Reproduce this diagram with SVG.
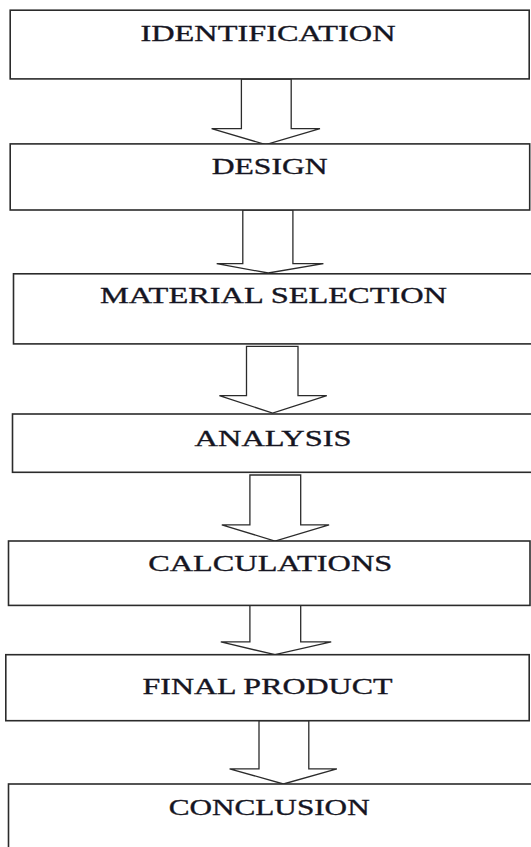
<svg xmlns="http://www.w3.org/2000/svg" width="531" height="847" viewBox="0 0 531 847">
<style>
.box{fill:#ffffff;stroke:#2b2b2b;stroke-width:1.6}
.arr{fill:#ffffff;stroke:#2b2b2b;stroke-width:1.3;stroke-linejoin:miter}
.lbl{font-family:"Liberation Serif","Times New Roman",serif;font-size:23.5px;fill:#151522;stroke:#151522;stroke-width:0.35;text-anchor:middle}
</style>
<rect width="531" height="847" fill="#ffffff"/>
<g id="connectors">
<polygon class="arr" points="241.4,79 241.4,128.7 211.6,128.7 265.8,144.6 320,128.7 291.2,128.7 291.2,79"/>
<polygon class="arr" points="242.8,210 242.8,263.7 216.7,263.7 268.2,273 323.4,263.7 292.9,263.7 292.9,210"/>
<polygon class="arr" points="246.5,346.3 246.5,395.7 219.4,395.7 272.6,413 326.8,395.7 298,395.7 298,346.3"/>
<polygon class="arr" points="249.9,475 249.9,524.8 221.8,524.8 275,541 329.1,524.8 300.7,524.8 300.7,475"/>
<polygon class="arr" points="249.9,605.4 249.9,641.9 220.8,641.9 275,654.7 331.2,641.9 300.7,641.9 300.7,605.4"/>
<polygon class="arr" points="259,720.7 259,768.8 229.6,768.8 283.4,784 336.9,768.8 308.8,768.8 308.8,720.7"/>
</g>
<g id="n1"><rect class="box" x="10.2" y="10.2" width="519" height="68.7"/><text class="lbl" x="268" y="40.6" textLength="255" lengthAdjust="spacingAndGlyphs">IDENTIFICATION</text></g>
<g id="n2"><rect class="box" x="10.2" y="143.9" width="519.5" height="66.1"/><text class="lbl" x="269.7" y="173.7" textLength="116" lengthAdjust="spacingAndGlyphs">DESIGN</text></g>
<g id="n3"><rect class="box" x="13.5" y="273.8" width="520" height="70.1"/><text class="lbl" x="273.5" y="303.3" textLength="347" lengthAdjust="spacingAndGlyphs">MATERIAL SELECTION</text></g>
<g id="n4"><rect class="box" x="12.5" y="414" width="521" height="58.3"/><text class="lbl" x="273.1" y="445.5" textLength="157" lengthAdjust="spacingAndGlyphs">ANALYSIS</text></g>
<g id="n5"><rect class="box" x="8.5" y="541" width="521.5" height="64.4"/><text class="lbl" x="270.2" y="570.5" textLength="244" lengthAdjust="spacingAndGlyphs">CALCULATIONS</text></g>
<g id="n6"><rect class="box" x="5.8" y="654.7" width="523.4" height="66"/><text class="lbl" x="267.5" y="694.3" textLength="250" lengthAdjust="spacingAndGlyphs">FINAL PRODUCT</text></g>
<g id="n7"><rect class="box" x="8.5" y="784" width="525" height="70"/><text class="lbl" x="269.2" y="814.5" textLength="201" lengthAdjust="spacingAndGlyphs">CONCLUSION</text></g>
</svg>
